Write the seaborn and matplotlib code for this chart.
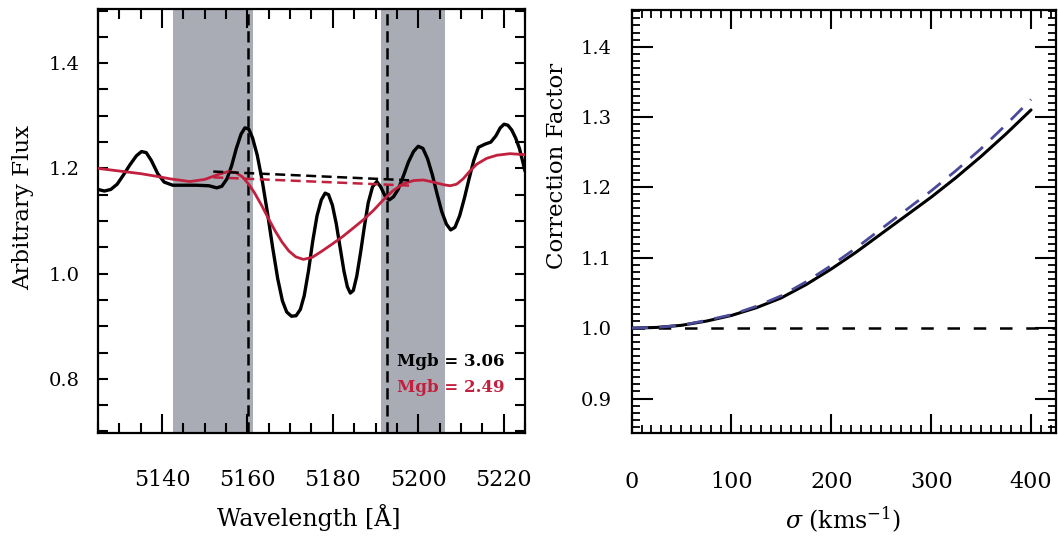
import matplotlib
matplotlib.use('Agg')
import matplotlib.pyplot as plt
import seaborn as sns
from matplotlib.ticker import MultipleLocator, FormatStrFormatter

# Left panel: spectrum around the Mgb feature
wave_black = [5125.0, 5126.5, 5128.0, 5129.5, 5131.0, 5132.5, 5134.0, 5135.2, 5136.3, 5137.5,
              5139.0, 5140.5, 5142.5, 5145.0, 5148.0, 5151.0, 5152.8, 5154.0, 5155.2, 5156.3,
              5157.4, 5158.5, 5159.4, 5160.3, 5161.2, 5162.3, 5163.5, 5164.7, 5165.9, 5167.1,
              5168.2, 5169.2, 5170.3, 5171.4, 5172.4, 5173.3, 5174.3, 5175.3, 5176.3, 5177.3,
              5178.2, 5179.0, 5179.9, 5180.8, 5181.7, 5182.6, 5183.4, 5184.1, 5184.8, 5185.6,
              5186.5, 5187.4, 5188.3, 5189.3, 5190.3, 5191.2, 5192.2, 5193.2, 5194.2, 5195.3,
              5196.5, 5197.7, 5198.9, 5200.0, 5201.1, 5202.2, 5203.3, 5204.4, 5205.5, 5206.6,
              5207.6, 5208.6, 5209.7, 5210.8, 5211.9, 5213.0, 5214.1, 5215.6, 5217.0, 5218.2,
              5219.2, 5220.1, 5221.0, 5221.9, 5222.8, 5223.7, 5224.5, 5225.0]
flux_black = [1.160, 1.157, 1.160, 1.170, 1.188, 1.207, 1.224, 1.232, 1.230, 1.215,
              1.190, 1.174, 1.168, 1.168, 1.168, 1.167, 1.163, 1.166, 1.180, 1.205,
              1.238, 1.265, 1.277, 1.275, 1.258, 1.225, 1.175, 1.115, 1.050, 0.990,
              0.948, 0.927, 0.919, 0.920, 0.932, 0.958, 1.005, 1.062, 1.110, 1.140,
              1.153, 1.150, 1.130, 1.095, 1.050, 1.005, 0.975, 0.963, 0.968, 0.995,
              1.040, 1.090, 1.135, 1.165, 1.175, 1.165, 1.148, 1.140, 1.146, 1.160,
              1.185, 1.212, 1.232, 1.242, 1.238, 1.218, 1.188, 1.152, 1.118, 1.094,
              1.083, 1.088, 1.110, 1.143, 1.180, 1.215, 1.240, 1.246, 1.250, 1.262,
              1.277, 1.284, 1.282, 1.273, 1.258, 1.238, 1.212, 1.195]

wave_red = [5125.0, 5128.0, 5131.0, 5135.0, 5138.7, 5142.0, 5146.5, 5150.0, 5153.0, 5155.5,
            5157.3, 5158.8, 5160.2, 5161.7, 5163.3, 5164.9, 5166.5, 5168.1, 5169.7, 5171.3,
            5173.1, 5175.2, 5177.5, 5180.0, 5182.4, 5184.7, 5187.1, 5189.5, 5191.8, 5194.0,
            5196.5, 5199.0, 5201.2, 5203.5, 5205.9, 5207.5, 5209.0, 5210.5, 5212.0, 5213.7,
            5216.0, 5218.4, 5221.5, 5225.0]
flux_red = [1.200, 1.197, 1.194, 1.190, 1.185, 1.180, 1.175, 1.179, 1.188, 1.194,
            1.192, 1.184, 1.171, 1.153, 1.130, 1.105, 1.081, 1.060, 1.043, 1.032,
            1.027, 1.031, 1.043, 1.057, 1.071, 1.086, 1.102, 1.120, 1.140, 1.157,
            1.171, 1.177, 1.178, 1.174, 1.169, 1.167, 1.170, 1.180, 1.194, 1.208,
            1.219, 1.225, 1.228, 1.226]

blue_band = [5142.625, 5161.375]
red_band = [5191.375, 5206.375]
passband = [5160.125, 5192.625]

cont_x = [5152.0, 5198.9]
cont_black = [1.194, 1.177]
cont_red = [1.183, 1.167]

mgb_text = ['Mgb = 3.06', 'Mgb = 2.49']

# Right panel: correction factor vs velocity dispersion
sigma = [0, 25, 50, 75, 100, 125, 150, 175, 200, 225, 250, 275, 300, 325, 350, 375, 400]
corr_solid = [1.000, 1.001, 1.004, 1.010, 1.018, 1.029, 1.043, 1.062, 1.084, 1.108,
              1.134, 1.160, 1.186, 1.214, 1.244, 1.276, 1.310]
corr_dashed = [1.000, 1.001, 1.004, 1.011, 1.019, 1.031, 1.046, 1.066, 1.089, 1.114,
               1.141, 1.168, 1.195, 1.224, 1.255, 1.289, 1.325]

RED = '#c2203f'
BAND = '#a9acb4'
NAVY = '#4a4a99'

sns.set_theme(style='ticks')
plt.rcParams['font.family'] = ['DejaVu Serif']
plt.rcParams['mathtext.fontset'] = 'dejavuserif'
plt.rcParams['axes.linewidth'] = 1.6
for key in ('text.color', 'axes.labelcolor', 'xtick.color', 'ytick.color', 'axes.edgecolor'):
    plt.rcParams[key] = 'black'
plt.rcParams['lines.solid_joinstyle'] = 'round'
plt.rcParams['lines.solid_capstyle'] = 'round'

fig = plt.figure(figsize=(10.58, 5.59), dpi=100)
ax1 = fig.add_axes([0.0926, 0.2254, 0.4036, 0.7585])
ax2 = fig.add_axes([0.5969, 0.2254, 0.4012, 0.7567])

# --- left panel
ax1.axvspan(blue_band[0], blue_band[1], color=BAND, lw=0, zorder=0)
ax1.axvspan(red_band[0], red_band[1], color=BAND, lw=0, zorder=0)
for xv in passband:
    ax1.axvline(xv, color='black', lw=1.8, linestyle=(0, (4.5, 2.3)), zorder=1)

sns.lineplot(x=wave_red, y=flux_red, ax=ax1, color=RED, lw=2.0, estimator=None, zorder=3)
sns.lineplot(x=wave_black, y=flux_black, ax=ax1, color='black', lw=2.4, estimator=None, zorder=2)
sns.lineplot(x=cont_x, y=cont_black, ax=ax1, color='black', lw=1.8,
             linestyle=(0, (4, 2.2)), estimator=None, zorder=4)
sns.lineplot(x=cont_x, y=cont_red, ax=ax1, color=RED, lw=1.8,
             linestyle=(0, (4, 2.2)), estimator=None, zorder=4)

ax1.text(5195.0, 0.8335, mgb_text[0], color='black', fontsize=12, fontweight='bold',
         ha='left', va='center')
ax1.text(5195.0, 0.7835, mgb_text[1], color=RED, fontsize=12, fontweight='bold',
         ha='left', va='center')

ax1.set_xlim(5125, 5225)
ax1.set_ylim(0.697, 1.503)
ax1.xaxis.set_major_locator(MultipleLocator(20))
ax1.xaxis.set_minor_locator(MultipleLocator(5))
ax1.yaxis.set_major_locator(MultipleLocator(0.2))
ax1.yaxis.set_minor_locator(MultipleLocator(0.05))
ax1.yaxis.set_major_formatter(FormatStrFormatter('%.1f'))
ax1.tick_params(which='both', direction='in', top=True, right=True, width=1.5, color='black')
ax1.tick_params(axis='x', which='major', length=14, pad=26, labelsize=16)
ax1.tick_params(axis='x', which='minor', length=7)
ax1.tick_params(axis='y', which='both', length=7)
ax1.tick_params(axis='y', which='major', pad=13, labelsize=14)

ax1.set_xlabel('Wavelength [Å]', fontsize=17, va='center')
ax1.xaxis.set_label_coords(0.494, -0.199)
ax1.set_ylabel('Arbitrary Flux', fontsize=16.5, va='center')
ax1.yaxis.set_label_coords(-0.176, 0.533)

# --- right panel
ax2.axhline(1.0, color='black', lw=1.8, linestyle=(0, (5, 5.5)), zorder=1)
sns.lineplot(x=sigma, y=corr_solid, ax=ax2, color='black', lw=2.2, estimator=None, zorder=2)
sns.lineplot(x=sigma, y=corr_dashed, ax=ax2, color=NAVY, lw=2.0,
             linestyle=(0, (6, 4)), estimator=None, zorder=3)

ax2.set_xlim(0, 425)
ax2.set_ylim(0.851, 1.452)
ax2.xaxis.set_major_locator(MultipleLocator(100))
ax2.xaxis.set_minor_locator(MultipleLocator(10))
ax2.yaxis.set_major_locator(MultipleLocator(0.1))
ax2.yaxis.set_minor_locator(MultipleLocator(0.01))
ax2.yaxis.set_major_formatter(FormatStrFormatter('%.1f'))
ax2.tick_params(which='both', direction='in', top=True, right=True, width=1.5, color='black')
ax2.tick_params(axis='x', which='major', length=14, pad=27, labelsize=16)
ax2.tick_params(axis='y', which='major', length=15, pad=14, labelsize=14)
ax2.tick_params(which='minor', length=6, width=1.3)

ax2.set_xlabel(r'$\sigma$ (kms$^{-1}$)', fontsize=17, va='center')
ax2.xaxis.set_label_coords(0.498, -0.206)
ax2.set_ylabel('Correction Factor', fontsize=16.5, va='center')
ax2.yaxis.set_label_coords(-0.1755, 0.631)

for ax in (ax1, ax2):
    for s in ax.spines.values():
        s.set_visible(True)
        s.set_color('black')
        s.set_linewidth(1.6)

fig.savefig('out.png', dpi=100)
